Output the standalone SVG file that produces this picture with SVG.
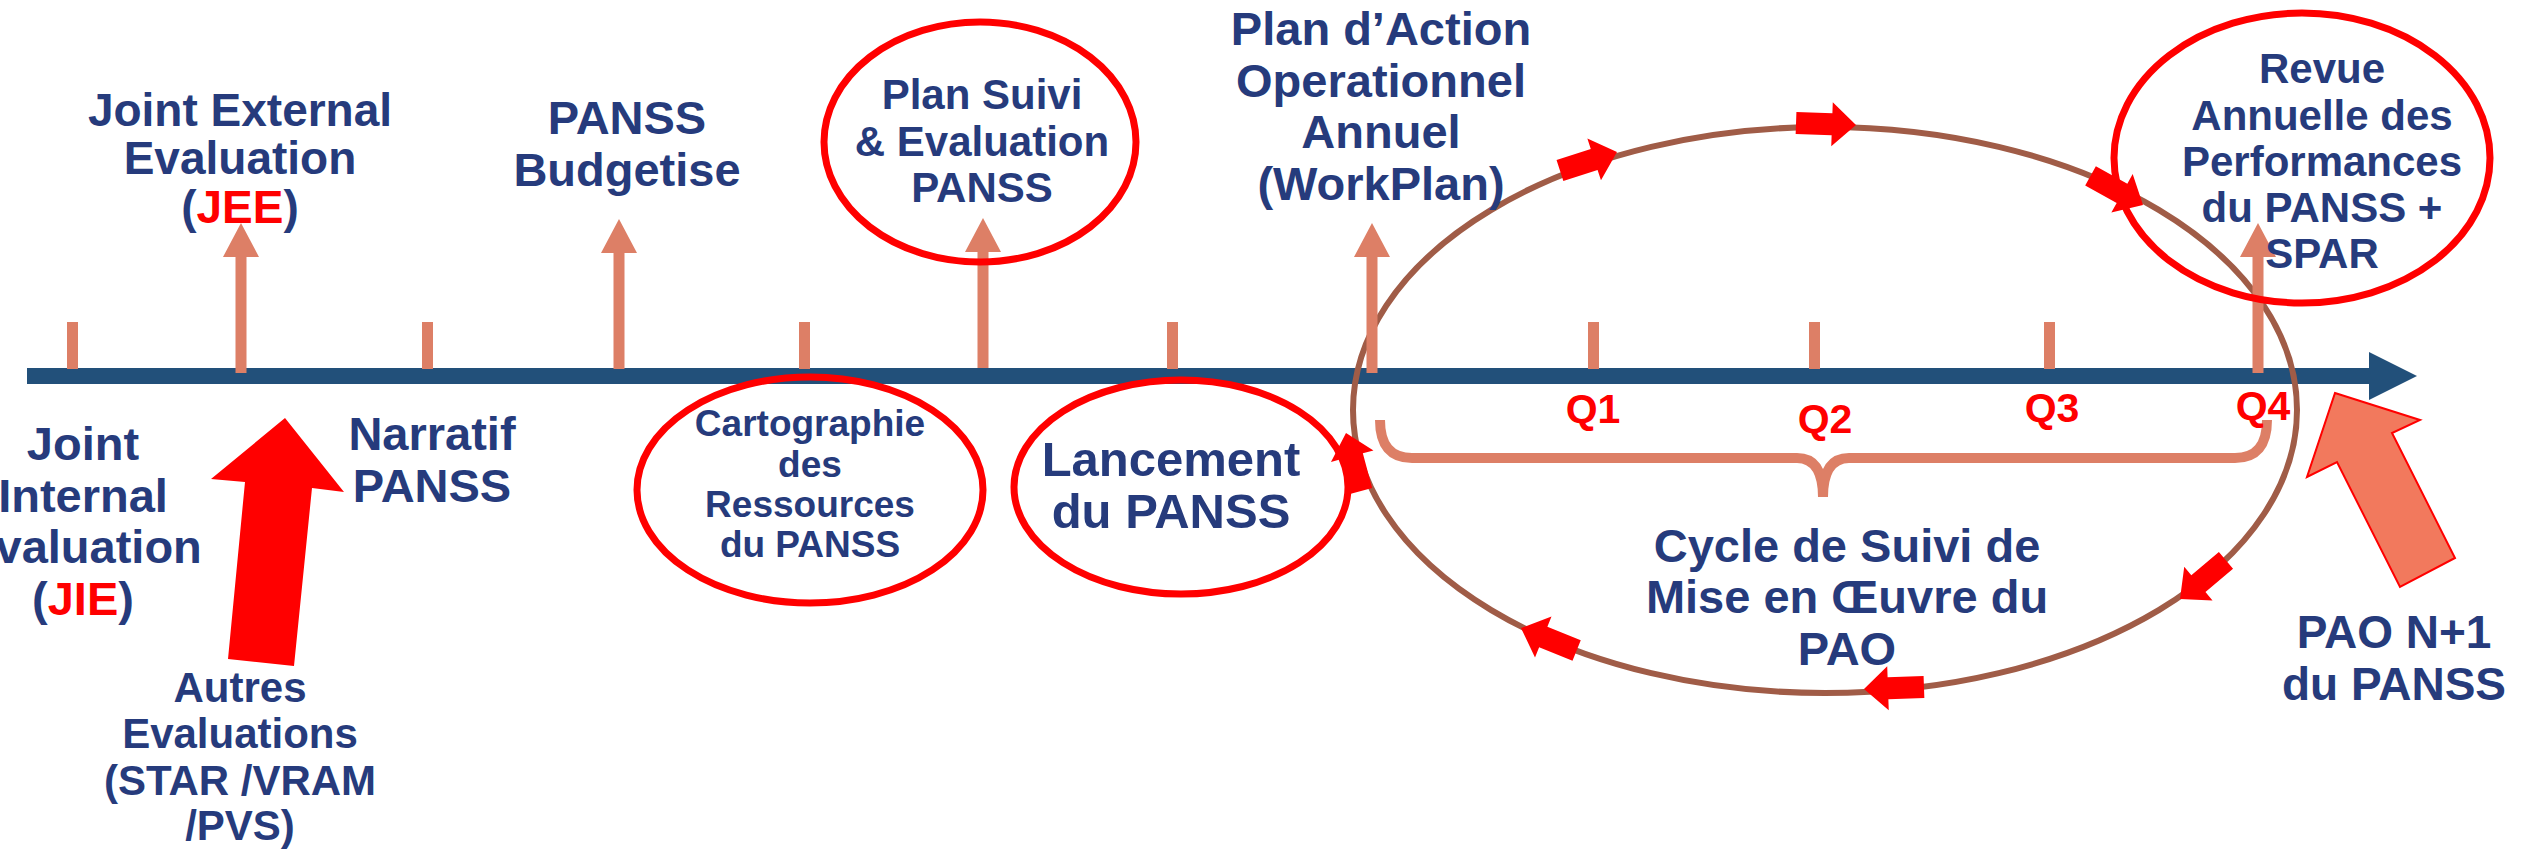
<svg xmlns="http://www.w3.org/2000/svg" xmlns:xlink="http://www.w3.org/1999/xlink" width="2526" height="849" viewBox="0 0 2526 849">
<style>
.t{font-family:"Liberation Sans",Arial,sans-serif;font-weight:bold;fill:#263B7C;text-anchor:middle}
.r{fill:#FF0000}
.q{font-family:"Liberation Sans",Arial,sans-serif;font-weight:bold;fill:#FF0000;text-anchor:middle;font-size:41px}
.tick{fill:#DD7F66}
.up{fill:#DD7F66}
.circ{fill:none;stroke:#FF0000;stroke-width:7}
</style>
<defs>
<path id="ca" d="M0,0 L-24,-22 L-24,-11 L-60,-11 L-60,11 L-24,11 L-24,22 Z" fill="#FF0000"/>
<path id="upa" d="M0,0 L18,34 L5.5,34 L5.5,150 L-5.5,150 L-5.5,34 L-18,34 Z"/>
</defs>
<rect width="2526" height="849" fill="#FFFFFF"/>

<g id="timeline">
<rect x="27" y="368" width="2344" height="16" fill="#22507A"/>
<polygon points="2369,352 2417,376 2369,400" fill="#22507A"/>
</g>

<g id="ticks">
<rect class="tick" x="67" y="322" width="11" height="47"/>
<rect class="tick" x="422" y="322" width="11" height="47"/>
<rect class="tick" x="799" y="322" width="11" height="47"/>
<rect class="tick" x="1167" y="322" width="11" height="47"/>
<rect class="tick" x="1588" y="322" width="11" height="47"/>
<rect class="tick" x="1809" y="322" width="11" height="47"/>
<rect class="tick" x="2044" y="322" width="11" height="47"/>
</g>

<g id="connectors">
<ellipse cx="1825" cy="410" rx="472" ry="283" fill="none" stroke="#A05C47" stroke-width="6"/>
<use href="#ca" transform="translate(1617,152) rotate(-18)"/>
<use href="#ca" transform="translate(1856,125) rotate(2)"/>
<use href="#ca" transform="translate(2143,205) rotate(29)"/>
<use href="#ca" transform="translate(2180,599) rotate(140)"/>
<use href="#ca" transform="translate(1864,689) rotate(178)"/>
<use href="#ca" transform="translate(1521,628) rotate(202)"/>
<use href="#ca" transform="translate(1346,433) rotate(-105)"/>
<path d="M1380,420 Q1380,458 1412,458 L1797,458 Q1823,458 1823,497 Q1823,458 1849,458 L2235,458 Q2267,458 2267,420" fill="none" stroke="#DD7F66" stroke-width="10"/>
<use href="#upa" class="up" transform="translate(241,223)"/>
<use href="#upa" class="up" transform="translate(619,219)"/>
<use href="#upa" class="up" transform="translate(983,218)"/>
<use href="#upa" class="up" transform="translate(1372,223)"/>
<use href="#upa" class="up" transform="translate(2258,223)"/>
<polygon points="285,418 344,492 312,488 294,666 228,659 245,482 211,479" fill="#FF0000"/>
<polygon points="2335,393 2420,420 2392,433 2455,558 2400,587 2337,462 2307,477" fill="#F2795D" stroke="#FF0000" stroke-width="2"/>
</g>

<g id="jee">
<text class="t" font-size="46" x="240" y="126">Joint External</text>
<text class="t" font-size="46" x="240" y="174">Evaluation</text>
<text class="t" font-size="46" x="240" y="223">(<tspan class="r">JEE</tspan>)</text>
</g>

<g id="budgetise">
<text class="t" font-size="47" x="627" y="134">PANSS</text>
<text class="t" font-size="47" x="627" y="186">Budgetise</text>
</g>

<g id="plan-suivi">
<ellipse class="circ" cx="980" cy="142" rx="156" ry="120"/>
<text class="t" font-size="42" x="982" y="109">Plan Suivi</text>
<text class="t" font-size="42" x="982" y="156">&amp; Evaluation</text>
<text class="t" font-size="42" x="982" y="202">PANSS</text>
</g>

<g id="workplan">
<text class="t" font-size="47" x="1381" y="45">Plan d’Action</text>
<text class="t" font-size="47" x="1381" y="97">Operationnel</text>
<text class="t" font-size="47" x="1381" y="148">Annuel</text>
<text class="t" font-size="47" x="1381" y="200">(WorkPlan)</text>
</g>

<g id="revue">
<ellipse class="circ" cx="2302" cy="158" rx="188" ry="145"/>
<text class="t" font-size="42" x="2322" y="83">Revue</text>
<text class="t" font-size="42" x="2322" y="130">Annuelle des</text>
<text class="t" font-size="42" x="2322" y="176">Performances</text>
<text class="t" font-size="42" x="2322" y="222">du PANSS +</text>
<text class="t" font-size="42" x="2322" y="268">SPAR</text>
</g>

<g id="jie">
<text class="t" font-size="47" x="83" y="460">Joint</text>
<text class="t" font-size="47" x="83" y="512">Internal</text>
<text class="t" font-size="47" x="83" y="563">Evaluation</text>
<text class="t" font-size="47" x="83" y="615">(<tspan class="r">JIE</tspan>)</text>
</g>

<g id="narratif">
<text class="t" font-size="47" x="432" y="450">Narratif</text>
<text class="t" font-size="47" x="432" y="502">PANSS</text>
</g>

<g id="autres">
<text class="t" font-size="42" x="240" y="702">Autres</text>
<text class="t" font-size="42" x="240" y="748">Evaluations</text>
<text class="t" font-size="42" x="240" y="795">(STAR /VRAM</text>
<text class="t" font-size="42" x="240" y="840">/PVS)</text>
</g>

<g id="cartographie">
<ellipse class="circ" cx="810" cy="490" rx="173" ry="113"/>
<text class="t" font-size="37" x="810" y="436">Cartographie</text>
<text class="t" font-size="37" x="810" y="477">des</text>
<text class="t" font-size="37" x="810" y="517">Ressources</text>
<text class="t" font-size="37" x="810" y="557">du PANSS</text>
</g>

<g id="lancement">
<ellipse class="circ" cx="1181" cy="487" rx="167" ry="107"/>
<text class="t" font-size="49" x="1171" y="476">Lancement</text>
<text class="t" font-size="49" x="1171" y="528">du PANSS</text>
</g>

<g id="quarters">
<text class="q" x="1593" y="423">Q1</text>
<text class="q" x="1825" y="433">Q2</text>
<text class="q" x="2052" y="422">Q3</text>
<text class="q" x="2263" y="420">Q4</text>
</g>

<g id="cycle">
<text class="t" font-size="47" x="1847" y="562">Cycle de Suivi de</text>
<text class="t" font-size="47" x="1847" y="613">Mise en Œuvre du</text>
<text class="t" font-size="47" x="1847" y="665">PAO</text>
</g>

<g id="pao">
<text class="t" font-size="46" x="2394" y="648">PAO N+1</text>
<text class="t" font-size="46" x="2394" y="700">du PANSS</text>
</g>
</svg>
